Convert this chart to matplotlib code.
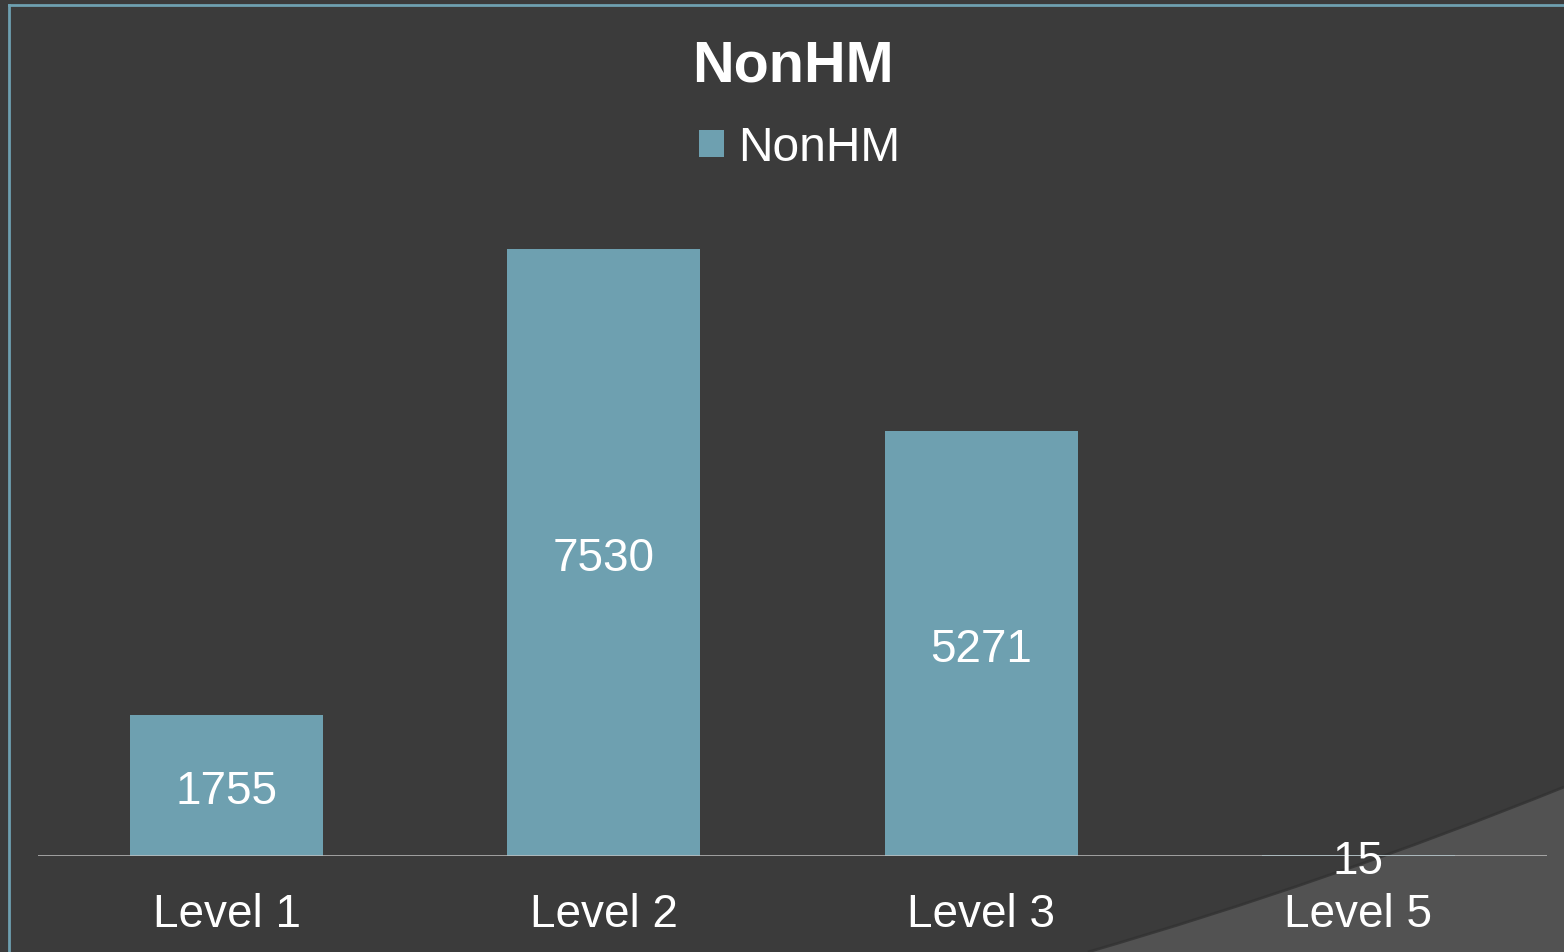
import numpy as np
import matplotlib
matplotlib.use("Agg")
import matplotlib.pyplot as plt
from matplotlib.patches import PathPatch, Patch
from matplotlib.path import Path

# -----------------------------
# data
# -----------------------------
categories = ["Level 1", "Level 2", "Level 3", "Level 5"]
values = [1755, 7530, 5271, 15]
series_name = "NonHM"

BG = "#3b3b3b"
BG_LIGHT = "#525252"
BAR = "#6ea0b0"
BORDER = "#6ea0b0"

plt.rcParams["font.family"] = ["Liberation Sans", "DejaVu Sans"]

W, H = 1564, 953
fig = plt.figure(figsize=(W / 100, H / 100), dpi=100, facecolor=BG)


def px(x, y):
    return (x / W, 1 - y / H)


# lighter swoosh at bottom right (background decoration)
curve = [px(1088, 953), px(1326, 884), px(1564, 788)]
verts = curve + [px(1564, 953), px(1088, 953)]
codes = [Path.MOVETO, Path.CURVE3, Path.CURVE3, Path.LINETO, Path.CLOSEPOLY]
fig.patches.append(PathPatch(Path(verts, codes), transform=fig.transFigure,
                             facecolor=BG_LIGHT, edgecolor="none", zorder=0))
# soft shadow along the swoosh edge
fig.patches.append(PathPatch(Path(curve, [Path.MOVETO, Path.CURVE3, Path.CURVE3]),
                             transform=fig.transFigure, facecolor="none",
                             edgecolor="#323232", lw=2, alpha=0.8, zorder=0.5))

# thin frame lines on top and left
fig.add_artist(plt.Line2D([9 / W, 1], [1 - 6 / H, 1 - 6 / H], transform=fig.transFigure,
                          color=BORDER, lw=2, zorder=1))
fig.add_artist(plt.Line2D([9 / W, 9 / W], [0, 1 - 6 / H], transform=fig.transFigure,
                          color=BORDER, lw=2, zorder=1))

ymax = 8000
ax = fig.add_axes([38 / W, (H - 857) / H, 1509 / W, (ymax * 607 / 7530) / H])
ax.set_facecolor("none")
ax.set_zorder(3)

x = np.arange(len(categories))
ax.bar(x, values, width=0.512, color=BAR, zorder=2)
ax.set_xlim(-0.5, len(categories) - 0.5)
ax.set_ylim(0, ymax)

for xi, v in zip(x, values):
    ax.annotate(str(v), (xi, v / 2), xytext=(0, -4), textcoords="offset points",
                ha="center", va="center", color="white", fontsize=33, zorder=4)

ax.axhline(0, color="#c0c0c0", lw=1.8, zorder=3)

ax.set_xticks(x)
ax.set_xticklabels(categories, fontsize=33, color="white")
ax.tick_params(axis="x", length=0, pad=26)
ax.set_yticks([])
for s in ax.spines.values():
    s.set_visible(False)

fig.text(793 / W, 1 - 82 / H, "NonHM", ha="center", va="baseline", color="white",
         fontsize=41.5, fontweight="bold")

handle = Patch(facecolor=BAR, edgecolor="none", label=series_name)
fig.legend(handles=[handle], loc="center", bbox_to_anchor=(800 / W, 1 - 149 / H),
           frameon=False, fontsize=34.5, labelcolor="white",
           handlelength=0.52, handleheight=0.52, handletextpad=0.3,
           borderpad=0, borderaxespad=0)

fig.savefig("out.png", dpi=100, facecolor=BG)
